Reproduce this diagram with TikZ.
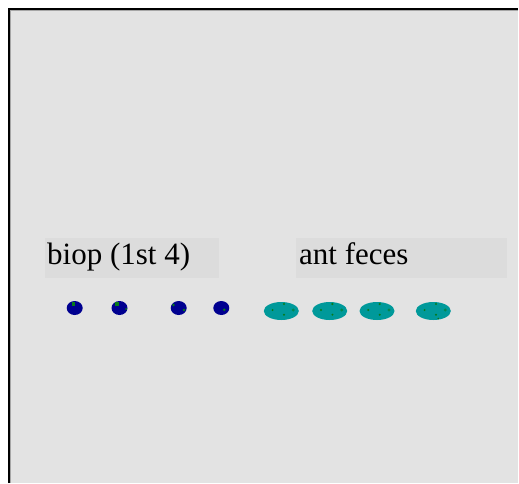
\documentclass[tikz,border=0pt]{standalone}
\usepackage{fontspec}
\setmainfont{Liberation Serif}
\usetikzlibrary{shapes.geometric}
\definecolor{panel}{HTML}{E3E3E3}
\definecolor{labelbg}{HTML}{DCDCDC}
\definecolor{biopblue}{HTML}{000090}
\definecolor{fecesteal}{HTML}{00999A}
\definecolor{speck}{HTML}{087A1A}
\begin{document}
\begin{tikzpicture}[x=1pt,y=-1pt,
  labelbox/.style={fill=labelbg, draw=none},
  labeltext/.style={anchor=base west, inner sep=0pt, font=\fontsize{31}{31}\selectfont},
  biop/.style={ellipse, fill=biopblue, minimum width=16pt, minimum height=14pt, inner sep=0pt},
  feces/.style={ellipse, fill=fecesteal, minimum width=35pt, minimum height=18pt, inner sep=0pt},
  speckdot/.style={fill=speck}]
\useasboundingbox (0,0) rectangle (519,483);
\fill[white] (0,0) rectangle (519,483);
% panel with a heavy left/top edge
\fill[panel] (9,9) rectangle (518,483);
\draw[line width=2.2pt] (9,483) -- (9,9) -- (518,9);
\draw[gray!70, line width=0.8pt] (10.6,483) -- (10.6,10.6) -- (518,10.6);

% label boxes
\fill[labelbox] (45,238) rectangle (219,278);
\fill[labelbox] (296,238) rectangle (507,278);
\node[labeltext] (lbiop) at (47,264) {biop (1st 4)};
\node[labeltext] (lfeces) at (299,264) {ant feces};

% biop grains
\node[biop] (b1) at (74.7,308) {};
\node[biop] (b2) at (119.5,308) {};
\node[biop] (b3) at (178.7,308) {};
\node[biop] (b4) at (221.3,308) {};
\fill[speckdot] (71.7,302.3) rectangle (75,305.7);
\fill[speckdot] (115.3,302.3) rectangle (118.7,305.7);
\fill[speckdot] (126.2,309) circle (1);
\fill[speckdot] (173.5,305) circle (1.4);
\fill[speckdot] (184,310) circle (1.4);
\fill[speckdot] (224.3,309.7) circle (1.4);

% feces pellets
\node[feces] (f1) at (281.3,311) {};
\node[feces] (f2) at (329.7,311) {};
\node[feces] (f3) at (377,311) {};
\node[feces] (f4) at (433.3,311) {};
\foreach \cx in {281.3,329.7,377,433.3}{
  \fill[speckdot] (\cx+2.7,304) circle (1.2);
  \fill[speckdot] (\cx-8.7,310) circle (1.1);
  \fill[speckdot] (\cx+2.7,314.7) circle (1.1);
  \fill[speckdot,opacity=0.6] (\cx+12,310) circle (1.6);
}
\fill[speckdot] (438.3,318.5) circle (0.9);
\end{tikzpicture}
\end{document}
